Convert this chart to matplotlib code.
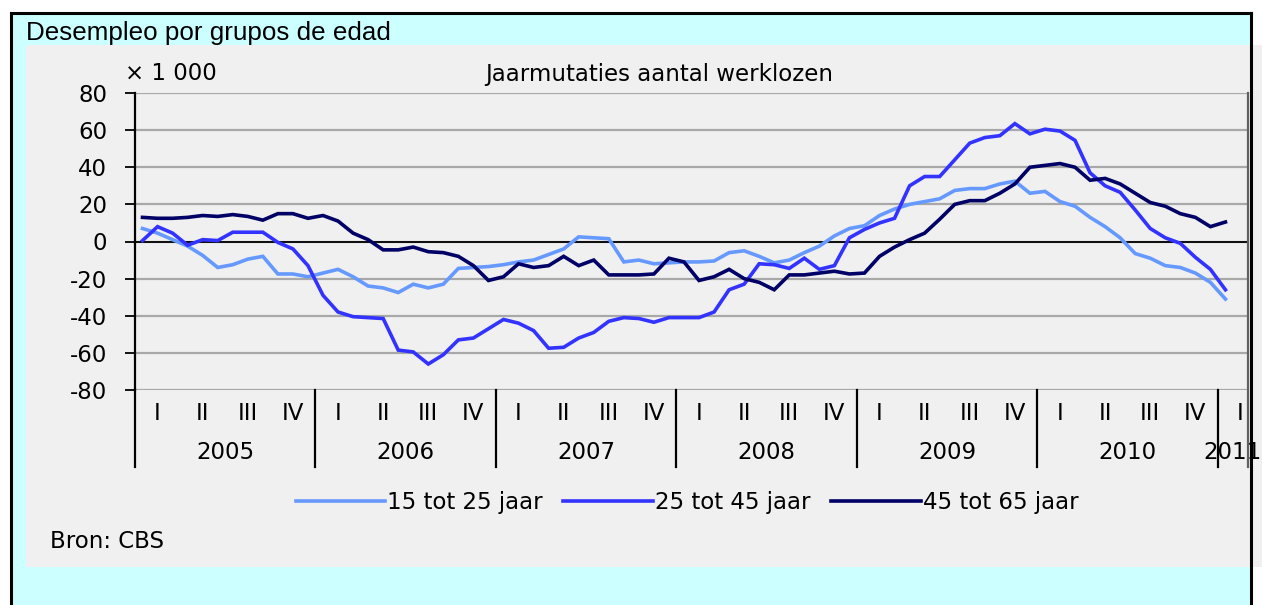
import numpy as np
import matplotlib
import matplotlib.pyplot as plt
from matplotlib.patches import Rectangle
from matplotlib.lines import Line2D

matplotlib.use('Agg')

plt.rcParams['font.family'] = ['DejaVu Sans']
plt.rcParams['axes.unicode_minus'] = False

# monthly data, Jan 2005 - Jan 2011 (x 1 000)
years = ['2005', '2006', '2007', '2008', '2009', '2010', '2011']
quarters = ['I', 'II', 'III', 'IV']
series_names = ['15 tot 25 jaar', '25 tot 45 jaar', '45 tot 65 jaar']

age_15_25 = [7, 4.5, 1, -2.5, -7.5, -14, -12.5, -9.5, -8, -17.5, -17.5, -19,
             -17, -15, -19, -24, -25, -27.5, -23, -25, -23, -14.5, -14, -13.5,
             -12.5, -11, -10, -7, -4, 2.5, 2, 1.5, -11, -10, -12, -11.5,
             -11, -11, -10.5, -6, -5, -8, -11.5, -10, -6, -2.5, 3, 7,
             8.5, 14, 17.5, 20, 21.5, 23, 27.5, 28.5, 28.5, 31, 32.5, 26,
             27, 21.5, 19, 13, 8, 2, -6.5, -9, -13, -14, -17, -22,
             -31]
age_25_45 = [0.5, 8, 4.5, -2, 1, 0.5, 5, 5, 5, -0.5, -4, -13,
             -29, -38, -40.5, -41, -41.5, -58.5, -59.5, -66, -61, -53, -52, -47,
             -42, -44, -48, -57.5, -57, -52, -49, -43, -41, -41.5, -43.5, -41,
             -41, -41, -38, -26, -23, -12, -12.5, -14.5, -9, -15, -13, 2,
             6.5, 10, 12.5, 30, 35, 35, 44, 53, 56, 57, 63.5, 58,
             60.5, 59.5, 54.5, 37, 30, 26.5, 17, 7, 2, -1, -8.5, -15,
             -26]
age_45_65 = [13, 12.5, 12.5, 13, 14, 13.5, 14.5, 13.5, 11.5, 15, 15, 12.5,
             14, 11, 4.5, 1, -4.5, -4.5, -3, -5.5, -6, -8, -13, -21,
             -19, -12, -14, -13, -8, -13, -10, -18, -18, -18, -17.5, -9,
             -11, -21, -19, -15, -20, -22, -26, -18, -18, -17, -16, -17.5,
             -17, -8, -3, 1, 4.5, 12, 20, 22, 22, 26, 31, 40,
             41, 42, 40, 33, 34, 31, 26, 21, 19, 15, 13, 8,
             10.5]

colors = ['#6699FF', '#3333FF', '#000066']
fs = 16.5

W, H = 1262, 605
fig = plt.figure(figsize=(W / 100, H / 100), dpi=100)
fig.patch.set_facecolor('white')

# cyan frame, grey panel, black border
fig.add_artist(Rectangle((11 / W, 0), 1240 / W, 1 - 13 / H, transform=fig.transFigure,
                         facecolor='#CCFFFF', edgecolor='none', zorder=-10))
fig.add_artist(Rectangle((26 / W, 1 - 567 / H), (W - 26) / W, 522 / H, transform=fig.transFigure,
                         facecolor='#F0F0F0', edgecolor='none', zorder=-9))
for xs, ys in [([11 / W, 1251 / W], [1 - 13 / H, 1 - 13 / H]),
               ([11 / W, 11 / W], [0, 1 - 13 / H]),
               ([1251 / W, 1251 / W], [0, 1 - 13 / H])]:
    fig.add_artist(Line2D(xs, ys, transform=fig.transFigure, color='black', lw=2.2, zorder=5))

ax = fig.add_axes([135 / W, 1 - 390 / H, (1248 - 135) / W, 297 / H])
ax.set_facecolor('#F0F0F0')

x = np.arange(len(age_15_25))
for vals, c, name in zip([age_15_25, age_25_45, age_45_65], colors, series_names):
    ax.plot(x, vals, color=c, lw=2.6, label=name, zorder=3, solid_joinstyle='miter')

ax.set_xlim(-0.5, 73.5)
ax.set_ylim(-80, 80)
ax.set_yticks(range(-80, 81, 20))
ax.yaxis.grid(True, color='#A8A8A8', lw=1.6)
ax.set_axisbelow(True)
ax.axhline(0, color='black', lw=1.3, zorder=2)

for s in ['top', 'right', 'bottom']:
    ax.spines[s].set_visible(False)
ax.spines['left'].set_linewidth(1.6)
ax.tick_params(axis='y', direction='out', length=7, width=1.3, pad=13, labelsize=fs)

# quarter labels as x ticks, years as text below
q_pos = [12 * k + 3 * q + 1 for k in range(len(years)) for q in range(4)]
q_lab = [quarters[q] for k in range(len(years)) for q in range(4)]
q_keep = [i for i, p in enumerate(q_pos) if p < 73.5]
ax.set_xticks([q_pos[i] for i in q_keep])
ax.set_xticklabels([q_lab[i] for i in q_keep])
ax.tick_params(axis='x', length=0, pad=9, labelsize=fs)

xt = ax.get_xaxis_transform()
for k, yr in enumerate(years):
    start = 12 * k - 0.5
    end = min(start + 12, 73.5)
    ax.plot([start, start], [0, -0.26], color='black', lw=1.6, transform=xt, clip_on=False)
    ax.text((start + end) / 2, -0.212, yr, transform=xt, ha='center', va='center', fontsize=fs)
ax.plot([73.5, 73.5], [1, -0.26], color='#606060', lw=1.6, transform=xt, clip_on=False)

fig.text(26 / W, 1 - 33 / H, 'Desempleo por grupos de edad', family='Liberation Sans',
         fontsize=18.7, va='center', ha='left')
fig.text(125 / W, 1 - 74 / H, '\u00d7 1 000', fontsize=fs, va='center', ha='left')
fig.text(659 / W, 1 - 74 / H, 'Jaarmutaties aantal werklozen', fontsize=fs, va='center', ha='center')
fig.text(50 / W, 1 - 541 / H, 'Bron: CBS', fontsize=fs, va='center', ha='left')

fig.legend(loc='center', bbox_to_anchor=(687 / W, 1 - 503 / H), ncol=3, frameon=False,
           fontsize=fs, handlelength=3.9, handletextpad=0.1, columnspacing=0.9)

fig.savefig('out.png', dpi=100)
